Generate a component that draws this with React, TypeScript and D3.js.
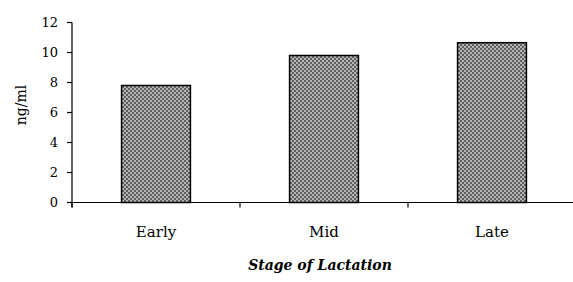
import React from 'react';
import * as d3 from 'd3';

const stages = ['Early', 'Mid', 'Late'];
const values = [7.8, 9.8, 10.65];
const yTicks = [0, 2, 4, 6, 8, 10, 12];

const W = 573;
const H = 282;
const left = 72;
const right = 576;
const top = 22.5;
const bottom = 202.5;

export default function App() {
  const x = d3.scaleBand().domain(stages).range([left, right]).paddingInner(0.59).paddingOuter(0.295);
  const band = d3.scaleBand().domain(stages).range([left, right]);
  const y = d3.scaleLinear().domain([0, 12]).range([bottom, top]);
  const font = '"DejaVu Serif", serif';

  return (
    <svg width={W} height={H} style={{ position: 'absolute', left: 0, top: 0, background: '#fff' }}>
      <defs>
        <pattern id="checker" width={4} height={4} patternUnits="userSpaceOnUse">
          <rect width={4} height={4} fill="#b4b4b4" />
          <rect width={2} height={2} fill="#606060" />
          <rect x={2} y={2} width={2} height={2} fill="#606060" />
        </pattern>
      </defs>

      {stages.map((s, i) => (
        <rect
          key={s}
          x={x(s)}
          y={y(values[i])}
          width={x.bandwidth()}
          height={bottom - y(values[i])}
          fill="url(#checker)"
          stroke="#000"
          strokeWidth={1.5}
        />
      ))}

      {/* y axis */}
      <line x1={left} x2={left} y1={top} y2={bottom + 5} stroke="#000" strokeWidth={1.2} />
      {yTicks.map(t => (
        <g key={t}>
          <line x1={left - 5} x2={left} y1={y(t)} y2={y(t)} stroke="#000" strokeWidth={1.2} />
          <text x={left - 14} y={y(t)} dy="0.35em" textAnchor="end" fontFamily={font} fontSize={13}>{t}</text>
        </g>
      ))}

      {/* x axis */}
      <line x1={left - 5} x2={W} y1={bottom} y2={bottom} stroke="#000" strokeWidth={1.2} />
      {stages.map(s => (
        <line key={s} x1={band(s)} x2={band(s)} y1={bottom} y2={bottom + 5} stroke="#000" strokeWidth={1.2} />
      ))}
      {stages.map(s => (
        <text key={s} x={band(s)! + band.bandwidth() / 2} y={232} dy="0.35em" textAnchor="middle" fontFamily={font} fontSize={15}>{s}</text>
      ))}

      <text x={320} y={265} dy="0.35em" textAnchor="middle" fontFamily={font} fontSize={14} fontWeight="bold" fontStyle="italic">Stage of Lactation</text>
      <text transform={`translate(21, 105) rotate(-90)`} textAnchor="middle" dy="0.35em" fontFamily={font} fontSize={14}>ng/ml</text>
    </svg>
  );
}
